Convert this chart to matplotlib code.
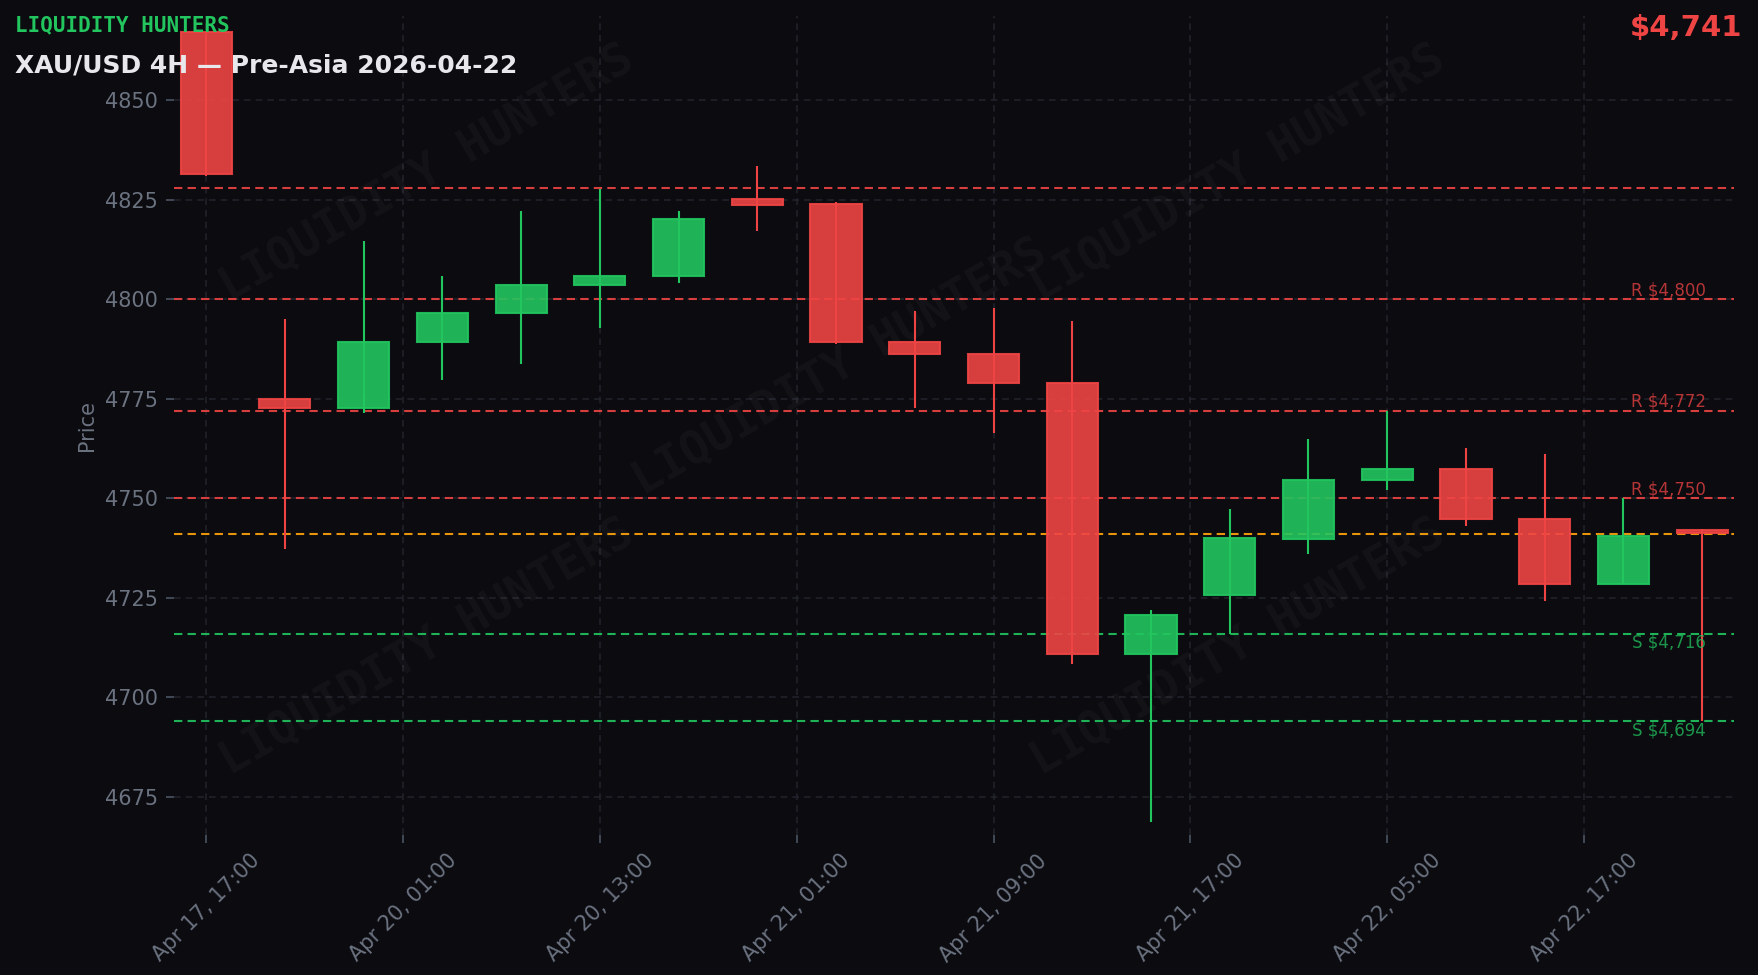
import matplotlib
matplotlib.use("Agg")
import matplotlib.pyplot as plt
import numpy as np

# 4H candles, index based x axis
opens  = [4867.0, 4774.8, 4772.6, 4789.3, 4796.5, 4803.6, 4805.7, 4825.2, 4823.8, 4789.3,
          4786.1, 4779.0, 4710.9, 4725.8, 4739.8, 4754.7, 4757.4, 4744.7, 4728.5, 4742.1]
highs  = [4867.0, 4795.0, 4814.5, 4805.8, 4822.0, 4827.6, 4822.0, 4833.3, 4824.4, 4797.1,
          4797.8, 4794.4, 4722.0, 4747.2, 4765.0, 4772.0, 4762.6, 4761.1, 4750.0, 4742.4]
lows   = [4830.8, 4737.3, 4771.5, 4779.8, 4783.8, 4792.8, 4804.1, 4817.0, 4788.8, 4772.7,
          4766.5, 4708.4, 4668.7, 4715.9, 4735.9, 4752.0, 4743.1, 4724.1, 4728.5, 4694.0]
closes = [4831.4, 4772.6, 4789.3, 4796.5, 4803.6, 4805.7, 4820.2, 4823.7, 4789.2, 4786.1,
          4779.0, 4710.9, 4720.8, 4740.0, 4754.7, 4757.4, 4744.7, 4728.5, 4740.6, 4741.3]

tick_pos = [0, 2.5, 5, 7.5, 10, 12.5, 15, 17.5]
tick_labels = ["Apr 17, 17:00", "Apr 20, 01:00", "Apr 20, 13:00", "Apr 21, 01:00",
               "Apr 21, 09:00", "Apr 21, 17:00", "Apr 22, 05:00", "Apr 22, 17:00"]

resistance = [4800, 4772, 4750]
support = [4716, 4694]
prev_high = 4828
price = 4741

BG = "#0b0b10"
GREEN = "#22c55e"
RED = "#ef4444"
ORANGE = "#f59e0b"
GRAY = "#6b7280"

fig = plt.figure(figsize=(11.72, 6.5), dpi=150, facecolor=BG)
ax = fig.add_axes([0.0989, 0.1437, 0.8877, 0.8396])
ax.set_facecolor(BG)

n = len(opens)
w = 0.65
for i in range(n):
    o, h, l, c = opens[i], highs[i], lows[i], closes[i]
    col = GREEN if c >= o else RED
    ax.vlines(i, l, h, color=col, linewidth=1.0, zorder=3)
    ax.bar(i, abs(c - o), bottom=min(o, c), width=w, color=col, alpha=0.9,
           edgecolor=col, linewidth=1.0, zorder=4)

dash = (0, (4, 2.5))
ax.axhline(prev_high, color=RED, linestyle=dash, linewidth=1.0, alpha=0.9, zorder=2)
for r in resistance:
    ax.axhline(r, color=RED, linestyle=dash, linewidth=1.0, alpha=0.9, zorder=2)
    ax.text(19.05, r + 2.2, f"R ${r:,}", color=RED, alpha=0.75, fontsize=8,
            ha="right", va="center", zorder=5)
for s in support:
    ax.axhline(s, color=GREEN, linestyle=dash, linewidth=1.0, alpha=0.9, zorder=2)
    ax.text(19.05, s - 2.2, f"S ${s:,}", color=GREEN, alpha=0.75, fontsize=8,
            ha="right", va="center", zorder=5)
ax.axhline(price, color=ORANGE, linestyle=dash, linewidth=1.0, alpha=0.95, zorder=2)

# watermarks
for (wx, wy) in [(0.162, 0.808), (0.427, 0.571), (0.682, 0.808), (0.162, 0.229), (0.682, 0.229)]:
    ax.text(wx, wy, "LIQUIDITY HUNTERS", transform=ax.transAxes, rotation=30,
            ha="center", va="center", fontsize=22, fontweight="bold",
            family="DejaVu Sans Mono", color="white", alpha=0.035, zorder=1)

ax.set_xlim(-0.41, 19.41)
ax.set_ylim(4665.5, 4871)
ax.set_yticks([4675, 4700, 4725, 4750, 4775, 4800, 4825, 4850])
ax.set_xticks(tick_pos)
ax.set_xticklabels(tick_labels, rotation=45, ha="center")
ax.tick_params(colors="#4b5563", labelcolor=GRAY, labelsize=10, length=4)
ax.grid(True, color="#23242e", linestyle=(0, (4, 3)), linewidth=0.8, alpha=0.9)
ax.set_axisbelow(True)
for sp in ax.spines.values():
    sp.set_visible(False)
ax.set_ylabel("Price", color=GRAY, fontsize=10, labelpad=4)

fig.text(0.0083, 0.9735, "LIQUIDITY HUNTERS", color=GREEN, fontsize=10, fontweight="bold",
         family="DejaVu Sans Mono", ha="left", va="center")
fig.text(0.0083, 0.933, "XAU/USD 4H — Pre-Asia 2026-04-22", color="#e8e8ec", fontsize=12,
         fontweight="bold", ha="left", va="center")
fig.text(0.991, 0.971, f"${price:,}", color=RED, fontsize=14, fontweight="bold",
         ha="right", va="center")

fig.savefig("out.png", dpi=150, facecolor=BG)
